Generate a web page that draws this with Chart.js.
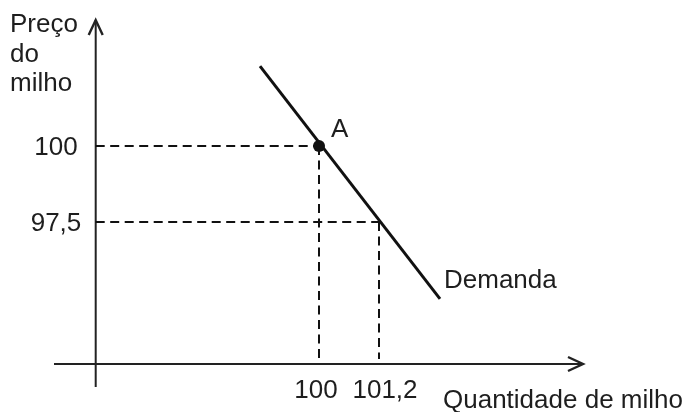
<!DOCTYPE html>
<html>
<head>
<meta charset="utf-8">
<script src="https://cdn.jsdelivr.net/npm/chart.js@4/dist/chart.umd.min.js"></script>
<style>
html,body{margin:0;padding:0;background:#fff;}
#c{display:block;}
</style>
</head>
<body>
<canvas id="c" width="690" height="412"></canvas>
<script>
// ---- data (economic units) ----
const demandX = [98.82, 102.42];
const demandY = [102.63, 94.97];
const pointA = {x: 100, y: 100};
const pointB = {x: 101.2, y: 97.5};
const yTickValues = [100, 97.5];
const yTickLabels = ['100', '97,5'];
const xTickValues = [100, 101.2];
const xTickLabels = ['100', '101,2'];
const xTickShift = [-3, 6];
const yAxisTitle = ['Preço', 'do', 'milho'];
const xAxisTitle = 'Quantidade de milho';
const curveLabel = 'Demanda';
const pointLabel = 'A';
// axes position (data units)
const axisX = 95.534;     // position of vertical axis
const axisY = 92.83;      // position of horizontal axis
const xAxisFrom = 94.7, xAxisTo = 105.28;
const yAxisFrom = 92.07, yAxisTo = 104.145;
const dashBottom = 92.99;
// visible window
const xMin = 93.62, xMax = 107.42, yMin = 91.25, yMax = 104.803;

const INK = '#111';
const FONT = '26px "Liberation Sans", Arial, sans-serif';

const dash = [9, 5.5];
const datasets = [
  {data: [{x: axisX, y: pointA.y}, {x: pointA.x, y: pointA.y}], borderDash: dash, borderWidth: 2},
  {data: [{x: pointA.x, y: pointA.y}, {x: pointA.x, y: dashBottom}], borderDash: dash, borderWidth: 2},
  {data: [{x: axisX, y: pointB.y}, {x: pointB.x, y: pointB.y}], borderDash: dash, borderWidth: 2},
  {data: [{x: pointB.x, y: pointB.y}, {x: pointB.x, y: dashBottom}], borderDash: dash, borderWidth: 2},
  {data: [{x: xAxisFrom, y: axisY}, {x: xAxisTo, y: axisY}], borderWidth: 2, borderColor: '#222'},
  {data: [{x: axisX, y: yAxisFrom}, {x: axisX, y: yAxisTo}], borderWidth: 2, borderColor: '#222'},
  {data: demandX.map((x, i) => ({x, y: demandY[i]})), borderWidth: 3},
  {data: [pointA], showLine: false, pointRadius: 6, pointBackgroundColor: INK, pointBorderWidth: 0}
].map(d => Object.assign({showLine: true, borderColor: INK, pointRadius: 0, fill: false}, d));

const overlay = {
  id: 'overlay',
  afterDatasetsDraw(chart) {
    const ctx = chart.ctx;
    const sx = chart.scales.x, sy = chart.scales.y;
    ctx.save();
    // arrowheads
    ctx.strokeStyle = '#222';
    ctx.lineWidth = 2.4;
    ctx.lineJoin = 'miter';
    const tx = sx.getPixelForValue(xAxisTo), ty = sy.getPixelForValue(axisY);
    ctx.beginPath();
    ctx.moveTo(tx - 15, ty - 7); ctx.lineTo(tx, ty); ctx.lineTo(tx - 15, ty + 7);
    ctx.stroke();
    const ux = sx.getPixelForValue(axisX), uy = sy.getPixelForValue(yAxisTo);
    ctx.beginPath();
    ctx.moveTo(ux - 7, uy + 15); ctx.lineTo(ux, uy); ctx.lineTo(ux + 7, uy + 15);
    ctx.stroke();
    // texts
    ctx.fillStyle = '#1e1e1e';
    ctx.font = FONT;
    ctx.textBaseline = 'alphabetic';
    ctx.textAlign = 'left';
    yAxisTitle.forEach((t, i) => ctx.fillText(t, 10, 32 + i * 29.5));
    ctx.textAlign = 'center';
    yTickValues.forEach((v, i) => ctx.fillText(yTickLabels[i], 56, sy.getPixelForValue(v) + 9));
    xTickValues.forEach((v, i) => ctx.fillText(xTickLabels[i], sx.getPixelForValue(v) + xTickShift[i], 398));
    ctx.textAlign = 'left';
    ctx.fillText(xAxisTitle, 443, 408);
    ctx.fillText(curveLabel, 444, 288);
    ctx.fillText(pointLabel, sx.getPixelForValue(pointA.x) + 12, sy.getPixelForValue(pointA.y) - 9);
    ctx.restore();
  }
};

new Chart(document.getElementById('c'), {
  type: 'scatter',
  data: {datasets},
  options: {
    responsive: false,
    animation: false,
    layout: {padding: 0, autoPadding: false},
    plugins: {legend: {display: false}, tooltip: {enabled: false}},
    scales: {
      x: {type: 'linear', display: false, min: xMin, max: xMax},
      y: {type: 'linear', display: false, min: yMin, max: yMax}
    }
  },
  plugins: [overlay]
});
</script>
</body>
</html>
